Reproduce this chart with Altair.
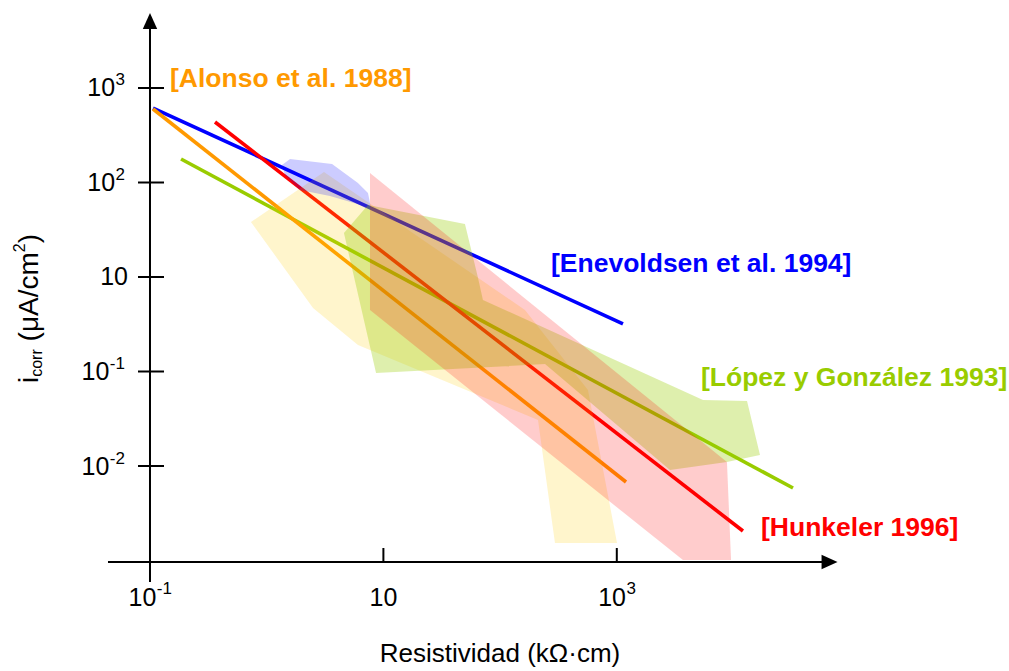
import altair as alt
import pandas as pd

# ---------------- data ----------------
# x: log10 of resistivity (kΩ·cm); y: decade position on the i_corr axis
series = ["Alonso et al. 1988", "Enevoldsen et al. 1994", "López y González 1993", "Hunkeler 1996"]
series_color = ["#FF9900", "#0000FF", "#99CC00", "#FF0000"]
band_color = ["#FFCC00", "#0000FF", "#99CC00", "#FF0000"]

line_x_start = [-0.974, -0.974, -0.734, -0.443]
line_y_start = [2.778, 2.788, 2.249, 2.640]
line_x_end = [3.079, 3.053, 4.510, 4.081]
line_y_end = [-1.169, 0.503, -1.233, -1.688]

# scatter bands (polygon outlines)
alonso_band_x = [-0.135, 0.491, 2.213, 2.753, 3.002, 2.470, 2.325, 0.782, 0.397]
alonso_band_y = [1.582, 2.111, 0.651, -0.196, -1.815, -1.815, -0.513, 0.280, 0.672]
enev_band_x = [0.131, 0.200, 0.560, 0.782, 0.868, 0.894, 0.542, 0.285, 0.157]
enev_band_y = [2.185, 2.249, 2.196, 1.995, 1.889, 1.730, 1.857, 1.921, 2.079]
lopez_band_x = [0.662, 0.868, 1.699, 1.811, 1.853, 3.739, 4.116, 4.227, 3.944, 3.456, 2.385, 0.937]
lopez_band_y = [1.466, 1.762, 1.561, 0.989, 0.757, -0.302, -0.312, -0.884, -0.958, -1.042, 0.079, -0.016]
hunk_band_x = [0.885, 3.944, 3.979, 3.567, 0.885]
hunk_band_y = [2.101, -0.958, -1.995, -1.995, 0.651]

x_tick_pos = [-1, 1, 3]
x_tick_sup = ["-1", "", "3"]
y_tick_pos = [3, 2, 1, 0, -1]
y_tick_sup = ["3", "2", "", "-1", "-2"]

# series label anchors (data units)
label_x = [-0.829, 2.436, 3.721, 4.236]
label_y = [3.011, 1.053, -0.153, -1.741]

# ---------------- layout ----------------
W, H = 1009, 671
XMIN, XMAX = -2.2853, 6.3608
YMIN, YMAX = -3.1693, 3.9312
PXU = W / (XMAX - XMIN)
PYU = H / (YMAX - YMIN)
AX_X = -1.0
AX_Y = -2.016
FONT = "Liberation Sans"
MAIN_FS, SUP_FS = 25, 17

xs = alt.Scale(domain=[XMIN, XMAX], nice=False, zero=False)
ys = alt.Scale(domain=[YMIN, YMAX], nice=False, zero=False)


def X(f):
    return alt.X(f, type="quantitative", scale=xs, axis=None)


def Y(f):
    return alt.Y(f, type="quantitative", scale=ys, axis=None)


def tw(s, fs):
    w = {"-": 0.333}
    return sum(w.get(c, 0.556) for c in s) * fs


layers = []

# regression lines
for i in [2, 1, 0, 3]:
    df = pd.DataFrame({"u": [line_x_start[i], line_x_end[i]],
                       "t": [line_y_start[i], line_y_end[i]], "k": [0, 1]})
    layers.append(alt.Chart(df).mark_line(color=series_color[i], strokeWidth=3.6)
                  .encode(x=X("u"), y=Y("t"), order="k:Q"))

# bands on top, translucent
bands = [(alonso_band_x, alonso_band_y, 0, 0.2), (enev_band_x, enev_band_y, 1, 0.2),
         (lopez_band_x, lopez_band_y, 2, 0.32), (hunk_band_x, hunk_band_y, 3, 0.2)]
for bx, by, i, op in bands:
    df = pd.DataFrame({"u": bx, "t": by, "k": list(range(len(bx)))})
    layers.append(alt.Chart(df).mark_line(interpolate="linear-closed", fill=band_color[i],
                                          fillOpacity=op, strokeOpacity=0, strokeWidth=0)
                  .encode(x=X("u"), y=Y("t"), order="k:Q"))

# axes
xaxis = pd.DataFrame({"u": [AX_X - 42 / PXU], "u2": [4.80], "t": [AX_Y]})
layers.append(alt.Chart(xaxis).mark_rule(color="black", strokeWidth=2)
              .encode(x=X("u"), x2="u2", y=Y("t")))
yaxis = pd.DataFrame({"u": [AX_X], "t": [AX_Y - 20 / PYU], "t2": [3.66]})
layers.append(alt.Chart(yaxis).mark_rule(color="black", strokeWidth=2)
              .encode(x=X("u"), y=Y("t"), y2="t2"))
yt = pd.DataFrame({"u": [AX_X - 12 / PXU] * 5, "u2": [AX_X + 14 / PXU] * 5, "t": y_tick_pos})
layers.append(alt.Chart(yt).mark_rule(color="black", strokeWidth=2)
              .encode(x=X("u"), x2="u2", y=Y("t")))
xt = pd.DataFrame({"u": x_tick_pos[1:], "t": [AX_Y] * 2, "t2": [AX_Y + 14 / PYU] * 2})
layers.append(alt.Chart(xt).mark_rule(color="black", strokeWidth=2)
              .encode(x=X("u"), y=Y("t"), y2="t2"))

arrows = pd.DataFrame({"u": [AX_X, 4.823], "t": [3.709, AX_Y],
                       "shape": ["M0,-1L0.9,1L-0.9,1Z", "M1,0L-1,-0.9L-1,0.9Z"]})
layers.append(alt.Chart(arrows).mark_point(filled=True, color="black", opacity=1, size=256,
                                           strokeWidth=0)
              .encode(x=X("u"), y=Y("t"), shape=alt.Shape("shape:N", scale=None)))

# tick labels
wm = tw("10", MAIN_FS)
rows_main, rows_sup = [], []
for p, s in zip(y_tick_pos, y_tick_sup):
    if s:
        rows_main.append({"u": AX_X + (-25 - tw(s, SUP_FS) - 0.5) / PXU, "t": p - 8.5 / PYU, "txt": "10"})
        rows_sup.append({"u": AX_X - 25 / PXU, "t": p + 2.5 / PYU, "txt": s})
    else:
        rows_main.append({"u": AX_X - 22 / PXU, "t": p - 8.5 / PYU, "txt": "10"})
layers.append(alt.Chart(pd.DataFrame(rows_main)).mark_text(align="right", baseline="alphabetic",
                                                           font=FONT, fontSize=MAIN_FS, color="black")
              .encode(x=X("u"), y=Y("t"), text="txt:N"))
layers.append(alt.Chart(pd.DataFrame(rows_sup)).mark_text(align="right", baseline="alphabetic",
                                                          font=FONT, fontSize=SUP_FS, color="black")
              .encode(x=X("u"), y=Y("t"), text="txt:N"))

xm, xsup = [], []
for p, s in zip(x_tick_pos, x_tick_sup):
    total = wm + tw(s, SUP_FS)
    xm.append({"u": p - total / 2 / PXU, "t": AX_Y - 44 / PYU, "txt": "10"})
    if s:
        xsup.append({"u": p + (-total / 2 + wm + 0.5) / PXU, "t": AX_Y - 32 / PYU, "txt": s})
layers.append(alt.Chart(pd.DataFrame(xm)).mark_text(align="left", baseline="alphabetic",
                                                    font=FONT, fontSize=MAIN_FS, color="black")
              .encode(x=X("u"), y=Y("t"), text="txt:N"))
layers.append(alt.Chart(pd.DataFrame(xsup)).mark_text(align="left", baseline="alphabetic",
                                                      font=FONT, fontSize=SUP_FS, color="black")
              .encode(x=X("u"), y=Y("t"), text="txt:N"))

# series labels
for i in range(4):
    df = pd.DataFrame({"u": [label_x[i]], "t": [label_y[i]], "txt": ["[" + series[i] + "]"]})
    layers.append(alt.Chart(df).mark_text(align="left", baseline="alphabetic", font=FONT,
                                          fontSize=26.5, fontWeight="bold", color=series_color[i])
                  .encode(x=X("u"), y=Y("t"), text="txt:N"))

# axis titles
one = pd.DataFrame({"a": [0]})
layers.append(alt.Chart(one).mark_text(text="Resistividad (kΩ·cm)", align="center",
                                       baseline="alphabetic", font=FONT, fontSize=26, color="black")
              .encode(x=alt.value(500), y=alt.value(662)))

pieces = [("i", 28, 38), ("corr", 16, 42), ("(μA/cm", 28, 38), ("2", 16, 25), (")", 28, 38)]
pw = {"i": 0.222, "c": 0.5, "o": 0.556, "r": 0.333, "(": 0.333, ")": 0.333, "μ": 0.576,
      "A": 0.667, "/": 0.278, "m": 0.833, "2": 0.556}
ypos = 383.0
for k, (txt, fs, bx) in enumerate(pieces):
    layers.append(alt.Chart(one).mark_text(text=txt, angle=270, align="left", baseline="alphabetic",
                                           font=FONT, fontSize=fs, color="black")
                  .encode(x=alt.value(bx), y=alt.value(ypos)))
    ypos -= sum(pw.get(c, 0.55) for c in txt) * fs
    if k == 1:
        ypos -= 0.278 * 28

chart = (alt.layer(*layers)
         .properties(width=W, height=H, autosize=alt.AutoSizeParams(type="none"), padding=0,
                     background="white")
         .configure_view(strokeWidth=0))
chart.save("out.html", embed_options={"renderer": "svg", "actions": False})
